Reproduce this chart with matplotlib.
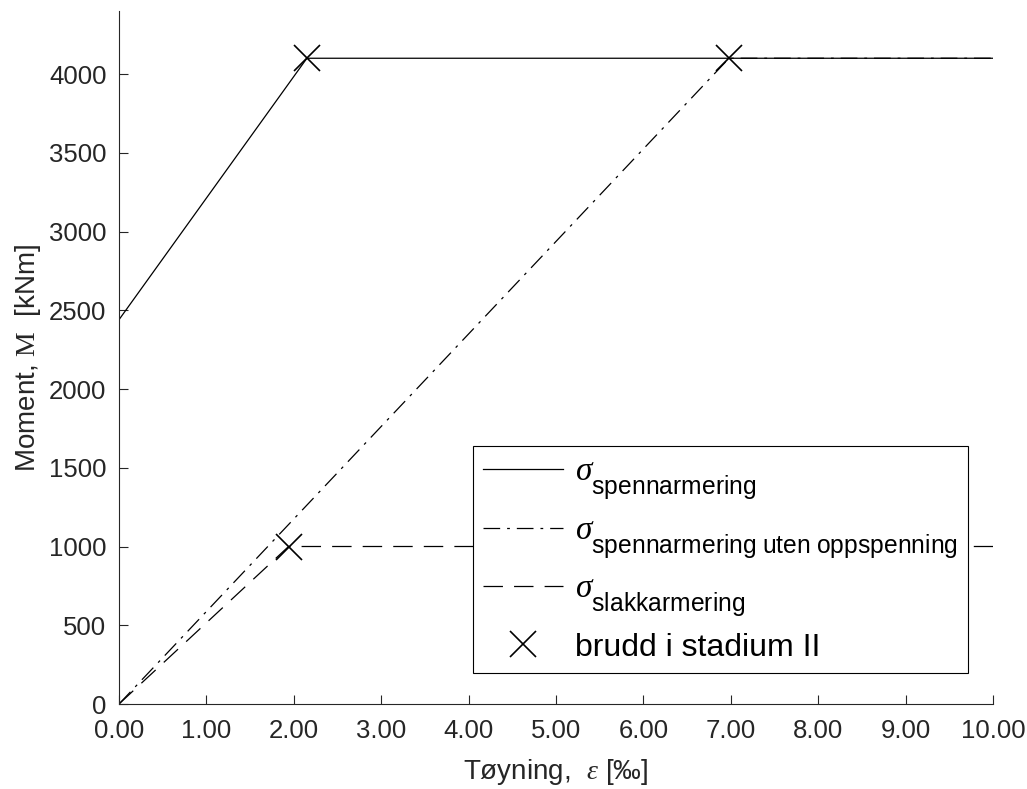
import matplotlib
matplotlib.use("Agg")
import matplotlib.pyplot as plt

try:
    import matplotlib._mathtext as _mt
    _mt.FontConstantsBase.subdrop = 0.9
    _mt.FontConstantsBase.sub1 = 0.9
    _mt.SHRINK_FACTOR = 0.74
except Exception:
    pass

plt.rcParams['font.family'] = ['Liberation Sans', 'DejaVu Sans']
plt.rcParams['mathtext.fontset'] = 'custom'
plt.rcParams['mathtext.rm'] = 'Liberation Serif'
plt.rcParams['mathtext.it'] = 'Liberation Serif:italic'
plt.rcParams['mathtext.sf'] = 'Liberation Sans'
plt.rcParams['lines.scale_dashes'] = False

# Data
spenn_x = [0.0, 2.15, 10.0]
spenn_y = [2440, 4100, 4100]
uten_x = [0.0, 6.98, 10.0]
uten_y = [0, 4100, 4100]
slakk_x = [0.0, 1.94, 10.0]
slakk_y = [0, 1000, 1000]
brudd_x = [2.15, 6.98, 1.94]
brudd_y = [4100, 4100, 1000]

xticks = [0, 1, 2, 3, 4, 5, 6, 7, 8, 9, 10]
xticklabels = ['0.00', '1.00', '2.00', '3.00', '4.00', '5.00', '6.00', '7.00', '8.00', '9.00', '10.00']
yticks = [0, 500, 1000, 1500, 2000, 2500, 3000, 3500, 4000]

labels = [r'$\sigma_{\mathsf{spennarmering}}$',
          r'$\sigma_{\mathsf{spennarmering\ uten\ oppspenning}}$',
          r'$\sigma_{\mathsf{slakkarmering}}$',
          'brudd i stadium II']

fig = plt.figure(figsize=(10.27, 7.89), dpi=100)
ax = fig.add_axes([119/1027, (789-704)/789, (993-119)/1027, (704-11)/789])

gray = '#262626'
lw = 0.9
ax.plot(spenn_x, spenn_y, color='black', lw=lw, linestyle='-', label=labels[0])
ax.plot(uten_x, uten_y, color='black', lw=lw, dashes=(12, 5, 2, 5), label=labels[1])
ax.plot(slakk_x, slakk_y, color='black', lw=lw, dashes=(14, 8), label=labels[2])
ax.plot(brudd_x, brudd_y, linestyle='none', marker='x', color='black',
        markersize=19, markeredgewidth=1.2, label=labels[3])

ax.set_xlim(0, 10)
ax.set_ylim(0, 4400)
ax.set_xticks(xticks)
ax.set_xticklabels(xticklabels)
ax.set_yticks(yticks)
ax.tick_params(direction='in', length=6.5, width=0.8, colors=gray, labelsize=18.5, pad=9)
ax.tick_params(axis='x', pad=11)
for s in ['top', 'right']:
    ax.spines[s].set_visible(False)
for s in ['left', 'bottom']:
    ax.spines[s].set_color(gray)
    ax.spines[s].set_linewidth(0.8)

ax.set_xlabel(r'Tøyning,  $\varepsilon$ [‰]', fontsize=20, color=gray, labelpad=10)
ax.set_ylabel(r'Moment, $\mathrm{M}$  [kNm]', fontsize=20, color=gray, labelpad=4)

leg = ax.legend(loc='lower left', bbox_to_anchor=(0.405, 0.0447), borderaxespad=0,
                fontsize=24, frameon=True, fancybox=False, edgecolor='black',
                framealpha=1.0, handlelength=2.4, handletextpad=0.35,
                labelspacing=0.4, borderpad=0.3)
leg.get_frame().set_linewidth(0.8)
leg.get_texts()[3].set_fontsize(23)

fig.savefig('out.png', dpi=100, facecolor='white')
